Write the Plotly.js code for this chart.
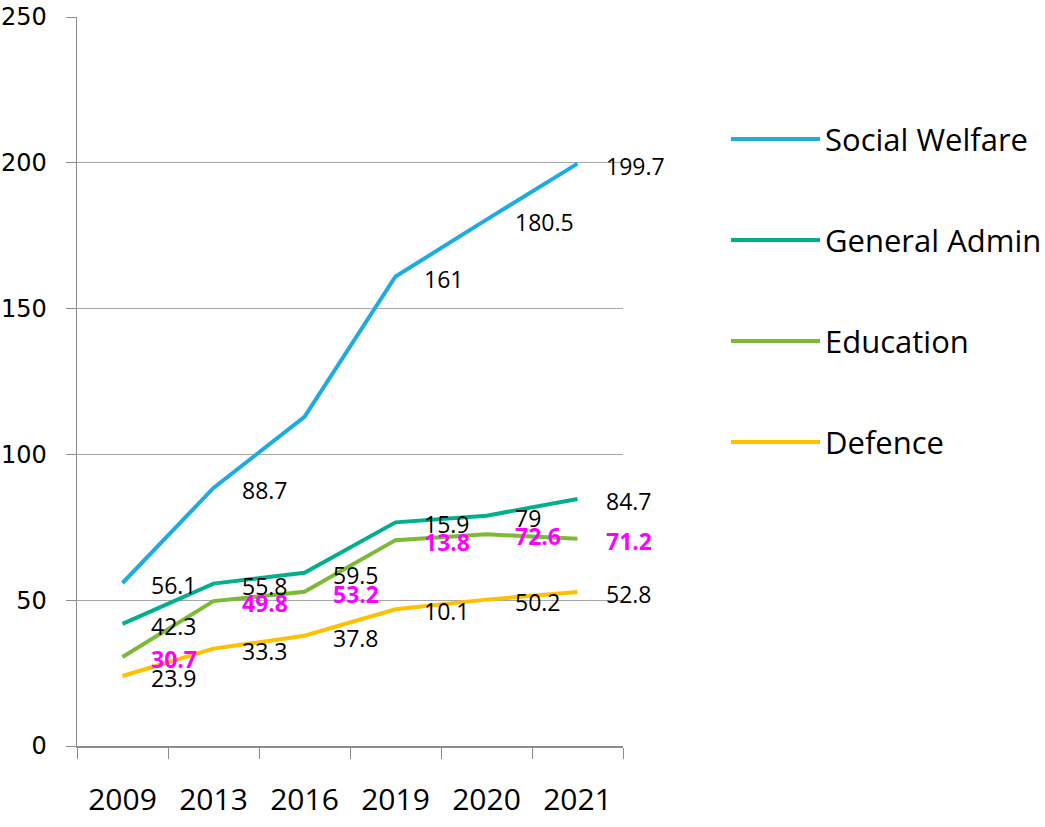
<!DOCTYPE html>
<html>
<head>
<meta charset="utf-8">
<script src="https://cdn.plot.ly/plotly-3.0.1.min.js"></script>
<style>html,body{margin:0;padding:0;background:#fff;}#chart{width:1045px;height:827px;}</style>
</head>
<body>
<div id="chart"></div>
<script>
const years = ["2009", "2013", "2016", "2019", "2020", "2021"];
const seriesNames = ["Social Welfare", "General Admin", "Education", "Defence"];
const socialWelfare = [55.9, 88.5, 112.9, 161, 180.5, 199.7];
const generalAdmin = [41.9, 55.7, 59.4, 76.7, 79, 84.7];
const education = [30.5, 49.7, 52.9, 70.6, 72.6, 71.1];
const defence = [24, 33.4, 37.8, 46.9, 50.2, 52.8];
const socialLabels = ["56.1", "88.7", "", "161", "180.5", "199.7"];
const adminLabels = ["42.3", "55.8", "59.5", "15.9", "79", "84.7"];
const eduLabels = ["30.7", "49.8", "53.2", "13.8", "72.6", "71.2"];
const defLabels = ["23.9", "33.3", "37.8", "10.1", "50.2", "52.8"];

const values = [socialWelfare, generalAdmin, education, defence];
const labels = [socialLabels, adminLabels, eduLabels, defLabels];
const colors = ["#1DABE2", "#00B08C", "#7CBA36", "#FFC000"];

const W = 1045, H = 827;
const m = {l: 77, r: 422, t: 17, b: 81};
const pw = W - m.l - m.r, ph = H - m.t - m.b;
const px = v => (v - m.l) / pw;
const py = v => (H - m.b - v) / ph;

const traces = values.map((vals, i) => ({
  type: "scatter", mode: "lines", x: years, y: vals, name: seriesNames[i],
  line: {color: colors[i], width: 4}, showlegend: false, hoverinfo: "skip"
}));

const annotations = [];
labels.forEach((labs, i) => {
  labs.forEach((t, j) => {
    if (!t) return;
    const edu = i === 2;
    annotations.push({
      x: j, y: values[i][j], xref: "x", yref: "y", text: edu ? "<b>" + t + "</b>" : t,
      showarrow: false, xanchor: "left", yanchor: "middle", xshift: 26, yshift: -2,
      font: {family: "Open Sans", size: 23, color: edu ? "#FF00FF" : "#000000"}
    });
  });
});

const shapes = [];
const legendY = [139, 240, 341, 442];
seriesNames.forEach((n, i) => {
  shapes.push({type: "line", xref: "paper", yref: "paper", x0: px(731), x1: px(820), y0: py(legendY[i]), y1: py(legendY[i]),
    line: {color: colors[i], width: 4}});
  annotations.push({xref: "paper", yref: "paper", x: px(823), y: py(legendY[i]), xanchor: "left", yanchor: "middle",
    showarrow: false, text: n, font: {family: "Open Sans", size: 31, color: "#000"}});
});

const layout = {
  width: W, height: H, margin: m, paper_bgcolor: "#fff", plot_bgcolor: "#fff",
  showlegend: false,
  xaxis: {type: "category", range: [-0.5, 5.5], tickson: "boundaries", ticks: "outside", ticklen: 11,
    tickcolor: "#8c8c8c", showline: true, linecolor: "#8c8c8c", linewidth: 1.5, showgrid: false,
    tickfont: {family: "Open Sans", size: 30, color: "#000"}, ticklabelstandoff: 26, fixedrange: true},
  yaxis: {range: [0, 250], dtick: 50, ticks: "outside", ticklen: 10, tickcolor: "#8c8c8c",
    showline: true, linecolor: "#8c8c8c", linewidth: 1.5, showgrid: true, gridcolor: "#a6a6a6", gridwidth: 1,
    zeroline: false, tickfont: {family: "DejaVu Sans", size: 24, color: "#000"}, ticklabelstandoff: 14, fixedrange: true},
  annotations: annotations, shapes: shapes
};

Plotly.newPlot("chart", traces, layout, {staticPlot: true});
</script>
</body>
</html>
